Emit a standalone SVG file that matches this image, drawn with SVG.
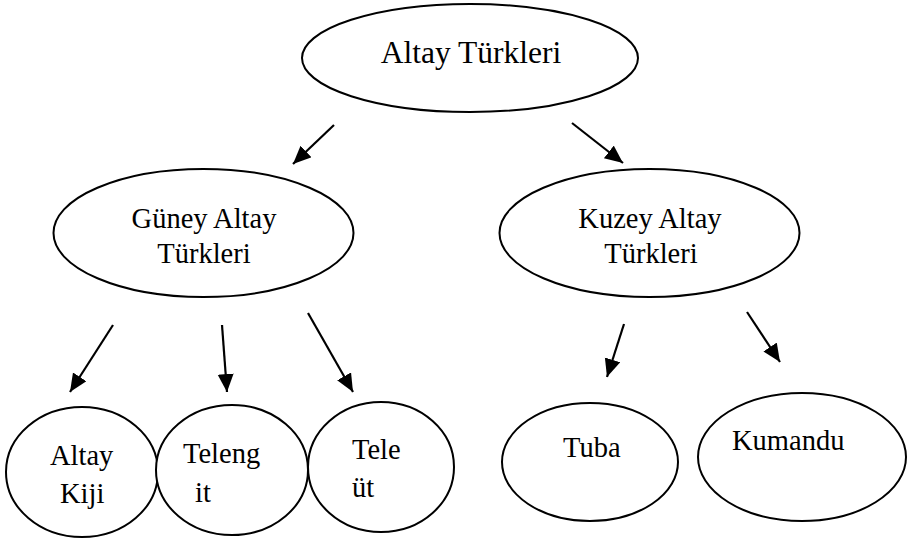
<svg xmlns="http://www.w3.org/2000/svg" width="913" height="539" viewBox="0 0 913 539">
<style>
.node ellipse{fill:#fff;stroke:#000;stroke-width:2}
.node text{font-family:'Liberation Serif','Tinos','DejaVu Serif',serif;font-size:28.5px;fill:#000}
.c{text-anchor:middle}
#connectors line{stroke:#000;stroke-width:2.2}
</style>
<defs>
<marker id="ah" markerUnits="userSpaceOnUse" markerWidth="20" markerHeight="18" refX="18" refY="8" orient="auto">
<path d="M0,0 L18,8 L0,16 z" fill="#000"/>
</marker>
</defs>
<rect width="913" height="539" fill="#fff"/>
<g id="n-root" class="node">
<ellipse cx="470" cy="58" rx="168" ry="54"/>
<text x="471" y="63" class="c" style="font-size:31.5px">Altay Türkleri</text>
</g>
<g id="n-guney" class="node">
<ellipse cx="203.5" cy="233" rx="150" ry="64"/>
<text x="204" y="228" class="c">Güney Altay</text>
<text x="204" y="263" class="c">Türkleri</text>
</g>
<g id="n-kuzey" class="node">
<ellipse cx="649.5" cy="233" rx="150" ry="64"/>
<text x="650" y="228" class="c">Kuzey Altay</text>
<text x="651" y="263" class="c">Türkleri</text>
</g>
<g id="n-altaykiji" class="node">
<ellipse cx="82" cy="472" rx="76" ry="65"/>
<text x="50" y="465">Altay</text>
<text x="60" y="503">Kiji</text>
</g>
<g id="n-telengit" class="node">
<ellipse cx="232" cy="470" rx="76" ry="65"/>
<text x="183" y="463">Teleng</text>
<text x="195" y="502">it</text>
</g>
<g id="n-teleut" class="node">
<ellipse cx="381" cy="467" rx="73" ry="65"/>
<text x="352" y="459">Tele</text>
<text x="352" y="497">üt</text>
</g>
<g id="n-tuba" class="node">
<ellipse cx="590" cy="462" rx="88" ry="59"/>
<text x="563" y="457">Tuba</text>
</g>
<g id="n-kumandu" class="node">
<ellipse cx="802" cy="457" rx="104" ry="64"/>
<text x="732" y="450">Kumandu</text>
</g>
<g id="connectors">
<line x1="334" y1="125" x2="293" y2="164" marker-end="url(#ah)"/>
<line x1="572" y1="123" x2="623" y2="163" marker-end="url(#ah)"/>
<line x1="113" y1="325" x2="70" y2="392" marker-end="url(#ah)"/>
<line x1="222" y1="325" x2="227" y2="392" marker-end="url(#ah)"/>
<line x1="308" y1="313" x2="353" y2="392" marker-end="url(#ah)"/>
<line x1="624" y1="324" x2="607" y2="377" marker-end="url(#ah)"/>
<line x1="747" y1="312" x2="780" y2="362" marker-end="url(#ah)"/>
</g>
</svg>
